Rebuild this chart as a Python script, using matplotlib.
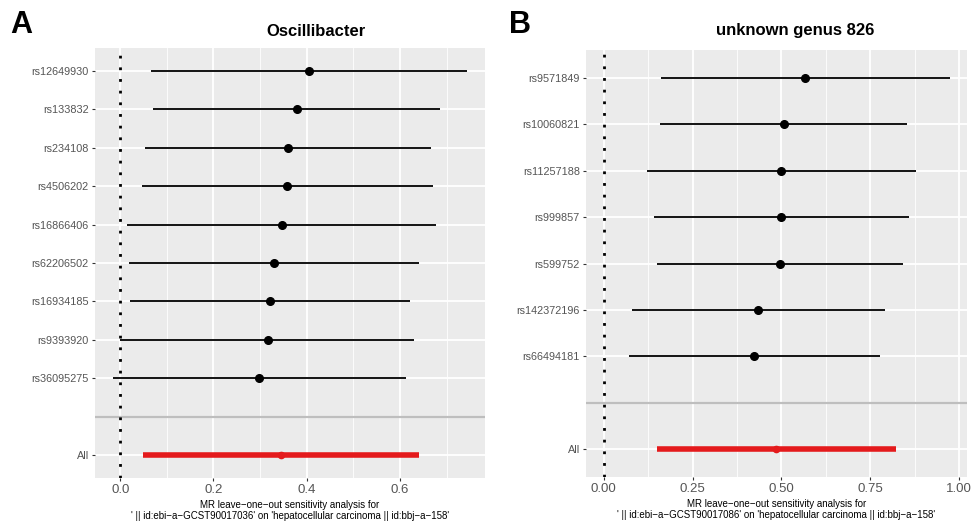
import matplotlib
matplotlib.use("Agg")
import matplotlib.pyplot as plt
import numpy as np

plt.rcParams['font.family'] = ['Liberation Sans', 'DejaVu Sans']

# ---- Data: panel A ----
snps_a = ["rs12649930", "rs133832", "rs234108", "rs4506202", "rs16866406",
          "rs62206502", "rs16934185", "rs9393920", "rs36095275"]
b_a = [0.405, 0.379, 0.360, 0.357, 0.346, 0.329, 0.321, 0.316, 0.298]
lo_a = [0.066, 0.071, 0.053, 0.046, 0.014, 0.019, 0.021, -0.001, -0.016]
hi_a = [0.744, 0.686, 0.666, 0.670, 0.677, 0.640, 0.621, 0.630, 0.612]
all_a = (0.345, 0.049, 0.641)  # b, lo, hi
xticks_a = [0.0, 0.2, 0.4, 0.6]
xticklabels_a = ["0.0", "0.2", "0.4", "0.6"]
title_a = "Oscillibacter"
xlabel_a = ("MR leave\u2212one\u2212out sensitivity analysis for\n"
            "' || id:ebi\u2212a\u2212GCST90017036' on 'hepatocellular carcinoma || id:bbj\u2212a\u2212158'")

# ---- Data: panel B ----
snps_b = ["rs9571849", "rs10060821", "rs11257188", "rs999857", "rs599752",
          "rs142372196", "rs66494181"]
b_b = [0.567, 0.506, 0.500, 0.500, 0.497, 0.433, 0.423]
lo_b = [0.160, 0.158, 0.123, 0.142, 0.151, 0.079, 0.070]
hi_b = [0.975, 0.853, 0.879, 0.858, 0.841, 0.790, 0.776]
all_b = (0.485, 0.151, 0.823)
xticks_b = [0.0, 0.25, 0.5, 0.75, 1.0]
xticklabels_b = ["0.00", "0.25", "0.50", "0.75", "1.00"]
title_b = "unknown genus 826"
xlabel_b = ("MR leave\u2212one\u2212out sensitivity analysis for\n"
            "' || id:ebi\u2212a\u2212GCST90017086' on 'hepatocellular carcinoma || id:bbj\u2212a\u2212158'")

W, H = 971, 523
fig = plt.figure(figsize=(W / 100, H / 100), dpi=100)
fig.patch.set_facecolor("white")

def px_rect(x0, y0, x1, y1):
    return [x0 / W, 1 - y1 / H, (x1 - x0) / W, (y1 - y0) / H]

def panel(rect, snps, b, lo, hi, allv, xticks, xticklabels, xlim, minor, xlabel):
    ax = fig.add_axes(rect)
    ax.set_facecolor("#EBEBEB")
    n = len(snps)
    # y positions: All = 1, blank = 2, SNPs from top
    ys = [n + 2 - i for i in range(n)]
    ax.set_ylim(0.4, n + 2.6)
    ax.set_xlim(*xlim)
    for x in minor:
        ax.axvline(x, color="white", lw=0.6, zorder=0)
    for x in xticks:
        ax.axvline(x, color="white", lw=1.3, zorder=0)
    for y in ys + [1]:
        ax.axhline(y, color="white", lw=1.3, zorder=0)
    ax.axhline(2, color="#BEBEBE", lw=1.6, zorder=1)
    ax.axvline(0, color="black", lw=2.0, linestyle=(0, (1, 3.2)), zorder=2)
    ax.hlines(ys, lo, hi, color="black", lw=1.3, zorder=3)
    ax.plot(b, ys, "o", color="black", ms=5.5, zorder=4)
    ax.hlines([1], [allv[1]], [allv[2]], color="#E41A1C", lw=4.0, zorder=3)
    ax.plot([allv[0]], [1], "o", color="#E41A1C", ms=4.5, zorder=4)
    ax.set_yticks(ys + [1])
    ax.set_yticklabels(snps + ["All"], fontsize=7.8, color="#555555")
    ax.set_xticks(xticks)
    ax.set_xticklabels(xticklabels, fontsize=9.5, color="#555555")
    ax.tick_params(axis="both", length=2.5, width=0.8, color="#333333", pad=2)
    for s in ax.spines.values():
        s.set_visible(False)
    ax.set_xlabel(xlabel, fontsize=7, color="black", labelpad=2.5, linespacing=1.15)
    return ax

axA = panel(px_rect(95, 48, 485, 478), snps_a, b_a, lo_a, hi_a, all_a,
            xticks_a, xticklabels_a, (-0.054, 0.782), [0.1, 0.3, 0.5, 0.7], xlabel_a)
axB = panel(px_rect(586, 50, 967, 477), snps_b, b_b, lo_b, hi_b, all_b,
            xticks_b, xticklabels_b, (-0.05, 1.022), [0.125, 0.375, 0.625, 0.875], xlabel_b)

fig.text(316 / W, 1 - 31 / H, title_a, fontsize=12, fontweight="bold", ha="center", va="center")
fig.text(795 / W, 1 - 31 / H, title_b, fontsize=12, fontweight="bold", ha="center", va="center")
fig.text(10 / W, 1 - 25 / H, "A", fontsize=22, fontweight="bold", ha="left", va="center")
fig.text(509 / W, 1 - 25 / H, "B", fontsize=22, fontweight="bold", ha="left", va="center")

fig.savefig("out.png", dpi=100, facecolor="white")
